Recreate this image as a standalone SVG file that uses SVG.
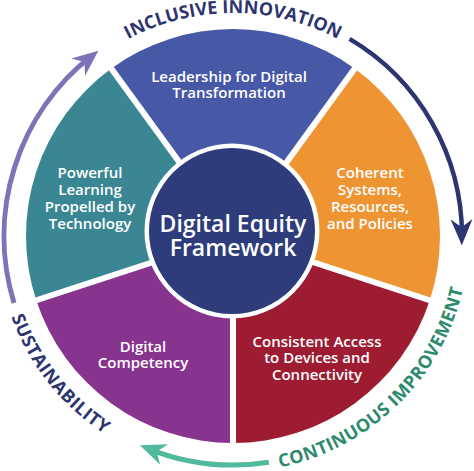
<svg xmlns="http://www.w3.org/2000/svg" width="474" height="471" viewBox="0 0 474 471">
<style>
.lbl{font-family:"Open Sans","Liberation Sans",sans-serif;font-weight:600;font-size:15px;fill:#fff;text-anchor:middle}
.ctr{font-family:"Open Sans","Liberation Sans",sans-serif;font-weight:600;font-size:23px;fill:#fff;text-anchor:middle}
.arc{font-family:"Open Sans","Liberation Sans",sans-serif;font-weight:700;font-size:18px;text-anchor:middle}
.gap{stroke:#fff;stroke-width:6;fill:none}
.ring{fill:none;stroke-width:5}
</style>
<defs>
<path id="pTop" d="M39.88,124.5 A223,223 0 0 1 426.12,124.5"/>
<path id="pLeft" d="M-3,236 A236,236 0 0 0 192.02,468.42"/>
<path id="pRight" d="M192.02,468.42 A236,236 0 0 0 465.41,195.02"/>
<path id="head" d="M0,0 L-26,-11 L-18,0 L-26,11 Z"/>
</defs>
<rect width="474" height="471" fill="#fff"/>
<g id="wedge-leadership">
<path d="M233,236 L111.33,68.53 A207,207 0 0 1 354.67,68.53 Z" fill="#4658a6"/>
<text class="lbl" x="229" y="82">Leadership for Digital</text>
<text class="lbl" x="229" y="98">Transformation</text>
</g>
<g id="wedge-coherent">
<path d="M233,236 L354.67,68.53 A207,207 0 0 1 429.87,299.97 Z" fill="#ee9432"/>
<text class="lbl" x="370" y="178">Coherent</text>
<text class="lbl" x="370" y="195">Systems,</text>
<text class="lbl" x="370" y="212">Resources,</text>
<text class="lbl" x="370" y="229">and Policies</text>
</g>
<g id="wedge-access">
<path d="M233,236 L429.87,299.97 A207,207 0 0 1 233,443 Z" fill="#9d1c31"/>
<text class="lbl" x="317" y="347">Consistent Access</text>
<text class="lbl" x="317" y="363">to Devices and</text>
<text class="lbl" x="317" y="380">Connectivity</text>
</g>
<g id="wedge-competency">
<path d="M233,236 L233,443 A207,207 0 0 1 36.13,299.97 Z" fill="#87348f"/>
<text class="lbl" x="143" y="352">Digital</text>
<text class="lbl" x="143" y="368">Competency</text>
</g>
<g id="wedge-learning">
<path d="M233,236 L36.13,299.97 A207,207 0 0 1 111.33,68.53 Z" fill="#3a8793"/>
<text class="lbl" x="90" y="178">Powerful</text>
<text class="lbl" x="90" y="195">Learning</text>
<text class="lbl" x="90" y="212">Propelled by</text>
<text class="lbl" x="90" y="229">Technology</text>
</g>
<g id="gaps">
<line class="gap" x1="233" y1="236" x2="108" y2="64"/>
<line class="gap" x1="233" y1="236" x2="358" y2="64"/>
<line class="gap" x1="233" y1="236" x2="435" y2="302"/>
<line class="gap" x1="233" y1="236" x2="233" y2="448"/>
<line class="gap" x1="233" y1="236" x2="31" y2="302"/>
</g>
<g id="center">
<circle cx="232" cy="231" r="87.5" fill="#fff"/>
<circle cx="232" cy="231" r="83" fill="#2e3c7c"/>
<text class="ctr" x="233" y="232">Digital Equity</text>
<text class="ctr" x="233" y="256">Framework</text>
</g>
<g id="connectors">
<path class="ring" d="M14.01,302.95 A229,229 0 0 1 92.01,55.55" stroke="#7d74b8"/>
<use href="#head" transform="translate(98.4,50.73) rotate(-39)" fill="#7d74b8"/>
<path class="ring" d="M349.57,38.89 A229,229 0 0 1 462,236" stroke="#2c3570" style="stroke-width:4.5"/>
<use href="#head" transform="translate(461.82,245.19) rotate(89.3)" fill="#2c3570"/>
<path class="ring" d="M268.82,462.18 A229,229 0 0 1 147.21,448.32" stroke="#51b99c"/>
<use href="#head" transform="translate(139.87,445.19) rotate(201)" fill="#51b99c"/>
</g>
<g id="labels">
<text class="arc" fill="#2c3570"><textPath href="#pTop" startOffset="50%" textLength="218" lengthAdjust="spacing">INCLUSIVE INNOVATION</textPath></text>
<text class="arc" fill="#2c3570"><textPath href="#pLeft" startOffset="48.1%" textLength="152" lengthAdjust="spacing">SUSTAINABILITY</textPath></text>
<text class="arc" fill="#2e8a6d"><textPath href="#pRight" startOffset="49.3%" textLength="270" lengthAdjust="spacing">CONTINUOUS IMPROVEMENT</textPath></text>
</g>
</svg>
